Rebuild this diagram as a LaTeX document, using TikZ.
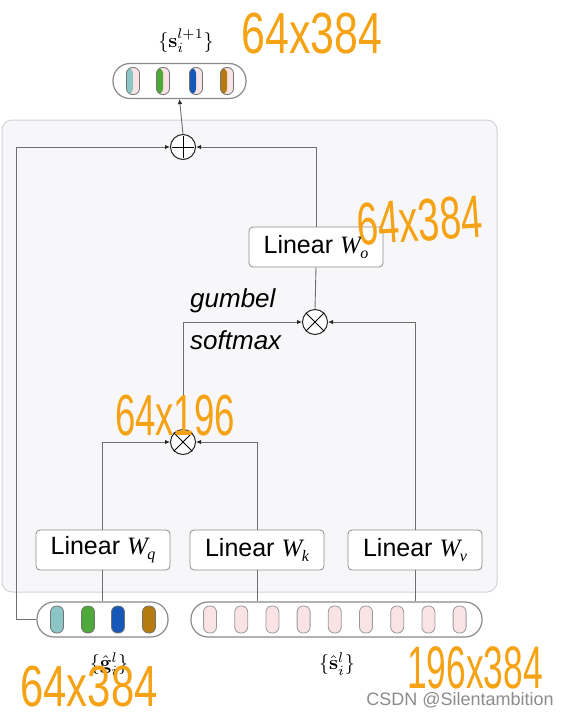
\documentclass[tikz,border=0pt]{standalone}
\usepackage[no-math]{fontspec}
\setmainfont{Liberation Sans}
\newfontfamily\tms{Liberation Serif}
\usetikzlibrary{arrows.meta}
\definecolor{bgfill}{HTML}{F7F7F9}
\definecolor{bgline}{HTML}{D4D4D8}
\definecolor{wire}{HTML}{6E6E6E}
\definecolor{pillline}{HTML}{8A8A8A}
\definecolor{ann}{RGB}{245,162,20}
\definecolor{cteal}{HTML}{8CC5C6}
\definecolor{cgreen}{HTML}{4EA83A}
\definecolor{cblue}{HTML}{1558B8}
\definecolor{cbrown}{HTML}{B57A10}
\definecolor{cpink}{HTML}{FAE3E5}
\newcommand\myW[1]{{\tms\itshape W\kern-0.5pt\raisebox{-5pt}{\fontsize{16}{16}\selectfont #1}}}
\tikzset{
  arr/.style={draw=wire, line width=0.9pt, -{Latex[length=5pt,width=4.5pt,color=black!85]}},
  wireline/.style={draw=wire, line width=0.9pt},
  linbox/.style={draw=black!45, fill=white, rounded corners=4pt, minimum width=134pt, minimum height=40pt, inner sep=0pt, font=\fontsize{25}{28}\selectfont, line width=0.8pt},
  opnode/.style={circle, draw=black!85, fill=white, minimum size=25pt, inner sep=0pt, line width=1pt},
  pill/.style={draw=pillline, fill=white, rounded corners=17pt, line width=1.2pt, minimum height=35pt, inner sep=0pt},
  capsule/.style={draw=black!55, rounded corners=6pt, minimum width=13pt, minimum height=27pt, inner sep=0pt, line width=0.8pt},
  halfcap/.style={capsule, fill=cpink, path picture={\fill[#1] (path picture bounding box.south west) rectangle (path picture bounding box.north);}},
  setlabel/.style={inner sep=0pt},
  annot/.style={text=ann, inner sep=0pt, anchor=base},
  italabel/.style={font=\fontsize{26}{30}\selectfont\itshape, inner sep=0pt, anchor=base west}
}
\begin{document}
\begin{tikzpicture}[x=1pt,y=-1pt]
\useasboundingbox (0,0) rectangle (573,717);
\fill[white] (0,0) rectangle (573,717);
% background panel
\draw[fill=bgfill, draw=bgline, line width=1pt, rounded corners=10pt] (2,120) rectangle (497,592);

% output pill
\node[pill, minimum width=133pt] (opill) at (179.5,81) {};
\node[halfcap=cteal]  (o1) at (133,81) {};
\node[halfcap=cgreen] (o2) at (163,81) {};
\node[halfcap=cblue]  (o3) at (196,81) {};
\node[halfcap=cbrown] (o4) at (227,81) {};
\node[setlabel] (olab) at (186,41) {\scalebox{2}{$\{\mathbf{s}_i^{l+1}\}$}};

% input pills
\node[pill, minimum width=131pt] (gpill) at (102.5,619.5) {};
\node[capsule, fill=cteal]  (g1) at (57,619.5) {};
\node[capsule, fill=cgreen] (g2) at (88,619.5) {};
\node[capsule, fill=cblue]  (g3) at (118,619.5) {};
\node[capsule, fill=cbrown] (g4) at (149,619.5) {};
\node[setlabel] (glab) at (109,664) {\scalebox{2}{$\{\hat{\mathbf{g}}_i^l\}$}};

\node[pill, minimum width=291pt] (spill) at (336.5,619.5) {};
\foreach \k in {0,...,8} {
  \node[capsule, fill=cpink, draw=black!40] (s\k) at ({210+31.2*\k},619.5) {};
}
\node[setlabel] (slab) at (337,664) {\scalebox{2}{$\{\hat{\mathbf{s}}_i^l\}$}};

% operators
\node[opnode] (plus) at (183,147) {};
\draw[line width=1pt] ([yshift=-2pt]plus.north) -- ([yshift=2pt]plus.south)
      ([xshift=2pt]plus.west) -- ([xshift=-2pt]plus.east);
\node[opnode] (mtop) at (315,322) {};
\draw[line width=1pt] (mtop.north west) -- (mtop.south east) (mtop.north east) -- (mtop.south west);
\node[opnode] (mbot) at (183,442) {};
\draw[line width=1pt] (mbot.north west) -- (mbot.south east) (mbot.north east) -- (mbot.south west);

% linear boxes
\node[linbox] (Wo) at (316,247) {Linear \myW{o}};
\node[linbox] (Wq) at (103,550) {Linear \myW{q}};
\node[linbox] (Wk) at (257,550) {Linear \myW{k}};
\node[linbox] (Wv) at (415,550) {Linear \myW{v}};

% labels
\node[italabel] (gum) at (190,307) {gumbel};
\node[italabel] (soft) at (190,349) {softmax};

% connectors
\coordinate (skx) at (16,0);
\draw[arr] (gpill.west) -- (gpill.west -| skx) |- (plus.west);
\draw[arr] (plus.north) -- (opill.south);
\draw[arr] (Wo.north) |- (plus.east);
\draw[wireline] (mtop.north) -- (Wo.south);
\draw[arr] (mbot.north) |- (mtop.west);
\draw[arr] (Wv.north) |- (mtop.east);
\draw[arr] ([xshift=-1pt]Wq.north) |- (mbot.west);
\draw[arr] (Wk.north) |- (mbot.east);
\draw[wireline] ([xshift=-1pt]Wq.south) -- ([xshift=-1pt]Wq.south |- gpill.north);
\draw[wireline] (Wk.south) -- (Wk.south |- spill.north);
\draw[wireline] (Wv.south) -- (Wv.south |- spill.north);

% handwritten annotations
\node[annot] (a1) at (312,54) {\scalebox{0.74}[1]{\fontsize{58}{58}\selectfont 64x384}};
\node[annot, rotate=4] (a2) at (421,241) {\scalebox{0.64}[1]{\fontsize{60}{60}\selectfont 64x384}};
\node[annot] (a3) at (175,435) {\scalebox{0.63}[1]{\fontsize{58}{58}\selectfont 64x196}};
\node[annot] (a4) at (89,706) {\scalebox{0.72}[1]{\fontsize{58}{58}\selectfont 64x384}};
\node[annot] (a5) at (475,688) {\scalebox{0.59}[1]{\fontsize{60}{60}\selectfont 196x384}};

% watermark
\node[text=black!45, font=\fontsize{18}{20}\selectfont, inner sep=0pt] (wm) at (460,700) {CSDN @Silentambition};
\end{tikzpicture}
\end{document}
